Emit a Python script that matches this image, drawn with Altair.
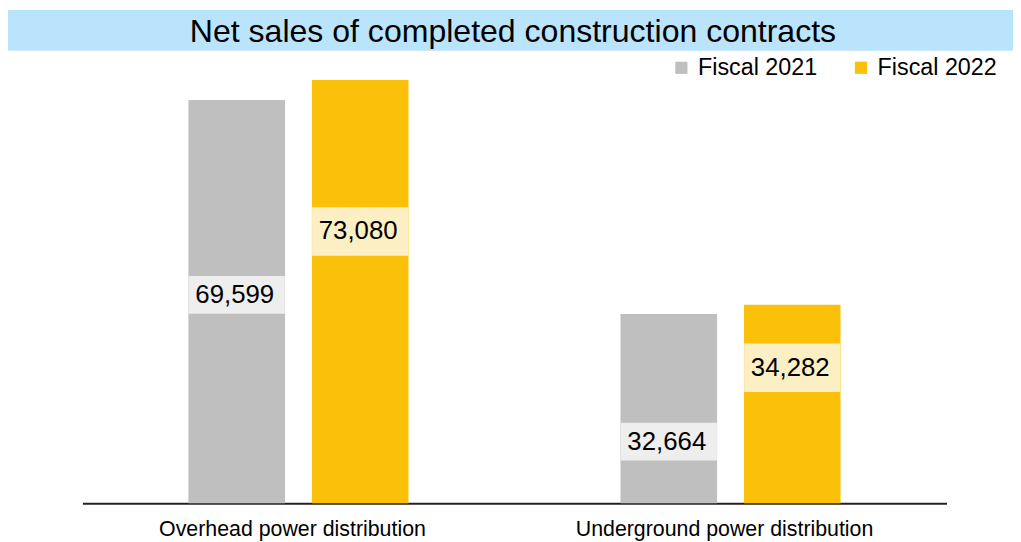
import altair as alt
import pandas as pd

categories = ["Overhead power distribution", "Underground power distribution"]
series = ["Fiscal 2021", "Fiscal 2022"]
values_2021 = [69599, 32664]
values_2022 = [73080, 34282]
# where each value label sits, as a share of its bar's height
label_share_2021 = [0.517, 0.325]
label_share_2022 = [0.642, 0.682]

title_text = "Net sales of completed construction contracts"

bar_colors = ["#BFBFBF", "#FAC00A"]
box_colors = ["#EEEEEE", "#FDEFC4"]
FONT = "Liberation Sans"

rows = []
for i, c in enumerate(categories):
    rows.append({"category": c, "series": series[0], "value": values_2021[i],
                 "share": label_share_2021[i]})
    rows.append({"category": c, "series": series[1], "value": values_2022[i],
                 "share": label_share_2022[i]})
df = pd.DataFrame(rows)

x_enc = alt.X("category:N", sort=categories,
              scale=alt.Scale(paddingInner=0, paddingOuter=0, round=False),
              axis=alt.Axis(title=None, labelAngle=0, ticks=False, domainColor="#222222",
                            domainWidth=2, labelFontSize=21.5, labelColor="#000000",
                            labelFont=FONT, labelPadding=16, labelLimit=0,
                            labelOffset=-6))
xo_enc = alt.XOffset("series:N", sort=series,
                     scale=alt.Scale(paddingInner=0.2174, paddingOuter=0.8585, round=False))
y_scale = alt.Scale(domain=[0, 80000], nice=False, zero=True)

base = alt.Chart(df)

bars = base.mark_bar().encode(
    x=x_enc,
    xOffset=xo_enc,
    y=alt.Y("value:Q", scale=y_scale, axis=None),
    color=alt.Color("series:N", sort=series,
                    scale=alt.Scale(domain=series, range=bar_colors),
                    legend=alt.Legend(title=None, orient="none", legendX=592, legendY=16,
                                      direction="horizontal", symbolType="square",
                                      symbolSize=150, symbolStrokeWidth=0,
                                      labelFontSize=23.5, labelFont=FONT, labelColor="#000000",
                                      labelOffset=5, columnPadding=32, padding=0)),
)

lab = base.transform_calculate(pos="datum.value * datum.share")

box21 = lab.transform_filter(alt.datum.series == series[0]).mark_tick(
    thickness=38, size=97, color=box_colors[0], opacity=1).encode(
    x=alt.X("category:N", sort=categories), xOffset=alt.XOffset("series:N", sort=series),
    y=alt.Y("pos:Q", scale=y_scale))
box22 = lab.transform_filter(alt.datum.series == series[1]).mark_tick(
    thickness=49, size=97, color=box_colors[1], opacity=1).encode(
    x=alt.X("category:N", sort=categories), xOffset=alt.XOffset("series:N", sort=series),
    y=alt.Y("pos:Q", scale=y_scale))

texts = lab.mark_text(fontSize=26, font=FONT, color="#000000", baseline="middle",
                      align="center", dx=-2).encode(
    x=alt.X("category:N", sort=categories), xOffset=alt.XOffset("series:N", sort=series),
    y=alt.Y("pos:Q", scale=y_scale),
    text=alt.Text("value:Q", format=","))

one = pd.DataFrame({"t": [title_text]})
band = alt.Chart(one).mark_rect(color="#BAE3FC").encode(
    x=alt.value(-75), x2=alt.value(938), y=alt.value(-30), y2=alt.value(11))
title = alt.Chart(one).mark_text(fontSize=32.3, font=FONT, color="#000000",
                                 baseline="alphabetic", align="center").encode(
    x=alt.value(434), y=alt.value(2), text="t:N")

chart = alt.layer(band, title, bars, box21, box22, texts).properties(
    width=871, height=467,
    autosize=alt.AutoSizeParams(type="none"),
    padding={"left": 75, "top": 30, "right": 67, "bottom": 37},
).configure_view(stroke=None).configure_axis(grid=False)

chart.save("out.html", embed_options={"renderer": "svg", "actions": False})
